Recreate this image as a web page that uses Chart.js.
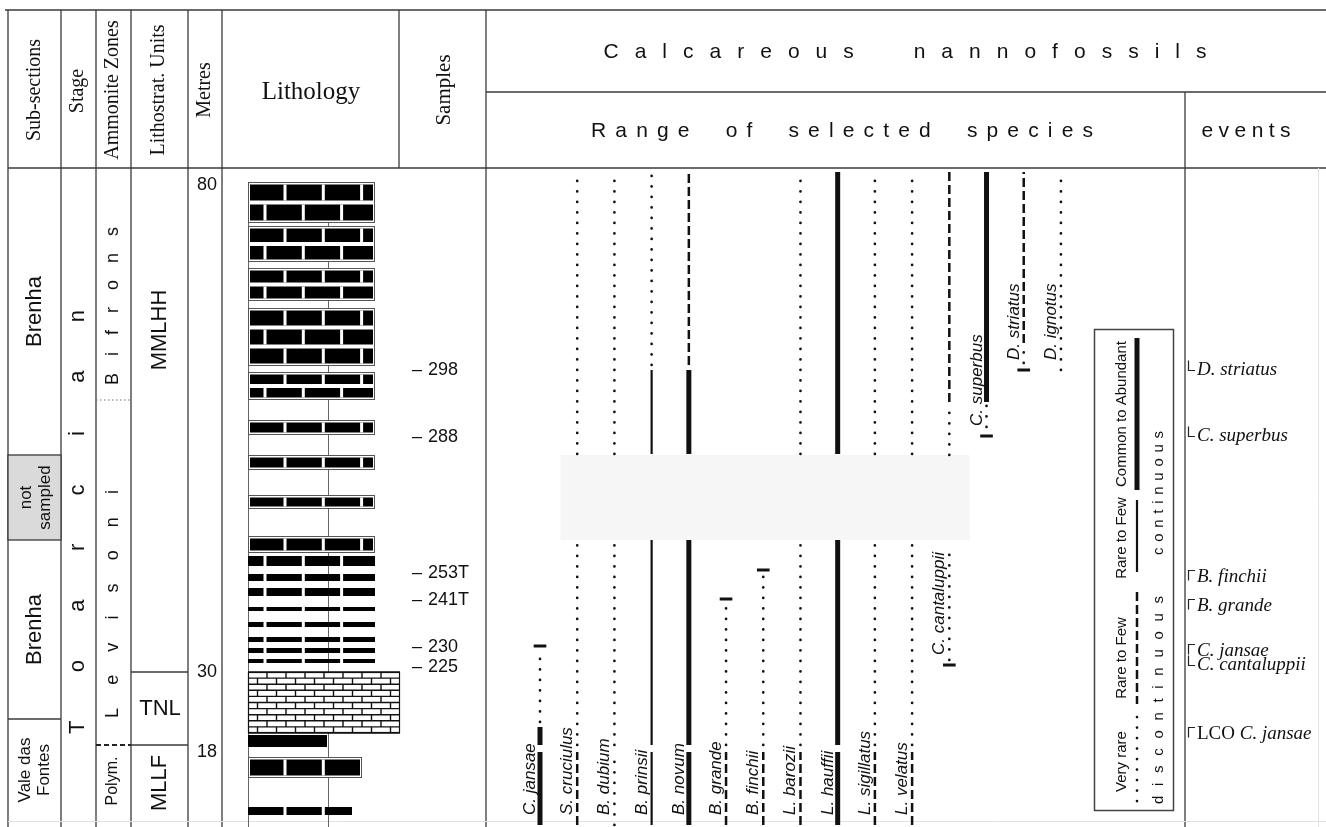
<!DOCTYPE html>
<html><head><meta charset="utf-8">
<script src="https://cdn.jsdelivr.net/npm/chart.js@4.4.0/dist/chart.umd.min.js"></script>
<style>html,body{margin:0;padding:0;background:#fff;}canvas{display:block;}</style>
</head><body>
<canvas id="c" width="1326" height="827" style="width:1326px;height:827px"></canvas>
<script>
// ================= DATA =================
// vertical unit: stratigraphic level (section height units, base of figure = 0)
const speciesNames = ['C. jansae','S. cruciulus','B. dubium','B. prinsii','B. novum','B. grande','B. finchii','L. barozii','L. hauffii','L. sigillatus','L. velatus','C. cantaluppii','C. superbus','D. striatus','D. ignotus'];

// range segments (species index, base level, top level, abundance class)
const segSpecies = [0,0,0, 1,1,1, 2,2,2, 3,3,3,3, 4,4,4,4, 5,5, 6,6, 7,7,7, 8,8,8, 9,9,9, 10,10,10, 11,11,11, 12,12, 13,13, 14];
const segBase    = [2,82,105, 2,82,373, 2,82,373, 2,82,373,462, 2,82,373,462, 2,82, 2,82, 2,82,373, 2,82,373, 2,82,373, 2,82,373, 167,372,425, 400,425, 464,484, 457];
const segTop     = [75,100,174, 75,285,655, 75,285,655, 75,287,457,655, 75,287,457,655, 75,220, 75,252, 75,285,655, 75,287,655, 75,285,655, 75,285,655, 280,422,655, 424,655, 480,655, 655];
const segClass   = ['CA','CA','VR', 'RFd','VR','VR', 'VR','VR','VR', 'RF','RF','RF','VR', 'CA','CA','CA','RFd', 'RFd','VR', 'RFd','VR', 'RFd','VR','VR', 'CA','CA','CA', 'RFd','VR','VR', 'RFd','VR','VR', 'VR','VR','RFd', 'VR','CA', 'VR','RFd', 'VR'];

// first / last occurrence markers
const tickSpecies = [0,5,6,11,12,13];
const tickLevel   = [181,228,257,162,391,457];

// bioevents
const eventNames = ['D. striatus','C. superbus','B. finchii','B. grande','C. jansae','C. cantaluppii','LCO C. jansae'];
const eventLevel = [457,391,257,228,183,162,100];
const eventType  = ['FO','FO','LO','LO','LO','FO','LO'];

// samples
const sampleNames = ['298','288','253T','241T','230','225'];
const sampleLevel = [457,390,254,227,180,160];

// metres tick labels
const metreLabels = ['80','30','18'];
const metreLevel  = [642,155,75];

// lithology beds
const bedBase    = [604,565,526,461,427,392,357,318,274,261,246,231,216,200,185,174,164,94,80,49,12];
const bedTop     = [645,601,559,519,455,407,372,332,291,271,253,239,220,205,190,179,168,155,92,70,20];
const bedLith    = ['M','M','M','M','M','M','M','M','M','S','S','S','S','S','S','S','S','L','K','M','S'];
const bedProfile = [5,5,5,5,5,5,5,5,5,5,5,5,5,5,5,5,5,6,3.1,4.5,4.1];

// stratigraphic units
const subNames = ['Brenha','not sampled','Brenha','Vale das Fontes'];
const subTop   = [659,372,287,108];
const subBase  = [372,287,108,0];
const zoneNames = ['Bifrons','Levisoni','Polym.'];
const zoneTop   = [659,427,82];
const zoneBase  = [427,82,0];
const unitNames = ['MMLHH','TNL','MLLF'];
const unitTop   = [659,155,82];
const unitBase  = [155,82,0];
const stageName = 'Toarcian';

// ================= STYLE =================
const SANS = '"Liberation Sans", Arial, sans-serif';
const SERIF = '"Liberation Serif", "Times New Roman", serif';
const INK = '#111';
const classStyle = {
  CA:  {w:5,   dash:[],        cap:'butt'},
  RF:  {w:2.2, dash:[],        cap:'butt'},
  RFd: {w:2.5, dash:[9,4],     cap:'butt'},
  VR:  {w:2.7, dash:[0.1,10.4],cap:'round'}
};
const COL = {l:8, sub:61, stage:96, zone:131, unit:188, metre:222, litho:399, samp:486, ev:1185, r:1326};
const ROW = {top:10, mid:92, head:168, bottom:827};
const LX0 = 248, PROFILE_UNIT = 25.4;

// ================= DATASETS =================
const datasets = [];
for (let i = 0; i < segSpecies.length; i++) {
  const st = classStyle[segClass[i]];
  datasets.push({
    data: [{x: segSpecies[i], y: segBase[i]}, {x: segSpecies[i], y: segTop[i]}],
    borderColor: INK, borderWidth: st.w, borderDash: st.dash, borderCapStyle: st.cap,
    pointRadius: 0, fill: false, tension: 0, clip: false
  });
}
for (let i = 0; i < tickSpecies.length; i++) {
  datasets.push({
    data: [{x: tickSpecies[i] - 0.17, y: tickLevel[i]}, {x: tickSpecies[i] + 0.17, y: tickLevel[i]}],
    borderColor: INK, borderWidth: 3, pointRadius: 0, fill: false, clip: false
  });
}

// ================= HELPERS =================
function hline(ctx, x0, x1, y) { ctx.beginPath(); ctx.moveTo(x0, y); ctx.lineTo(x1, y); ctx.stroke(); }
function vline(ctx, x, y0, y1) { ctx.beginPath(); ctx.moveTo(x, y0); ctx.lineTo(x, y1); ctx.stroke(); }
function vtext(ctx, text, x, y, font, align, baseline) {
  ctx.save(); ctx.translate(x, y); ctx.rotate(-Math.PI / 2);
  ctx.font = font; ctx.textAlign = align || 'center'; ctx.textBaseline = baseline || 'middle';
  ctx.fillText(text, 0, 0); ctx.restore();
}
// draws text spread to a total width, centred at (cx, cy); optional rotation
function spaced(ctx, text, cx, cy, total, font, rotate, wordExtra) {
  ctx.save(); ctx.translate(cx, cy); if (rotate) ctx.rotate(-Math.PI / 2);
  ctx.font = font; ctx.textAlign = 'left'; ctx.textBaseline = 'middle';
  const chars = text.split('');
  const ws = chars.map(c => ctx.measureText(c).width);
  const nSpaces = chars.filter(c => c === ' ').length;
  const extra = (wordExtra || 0);
  const sum = ws.reduce((a, b) => a + b, 0) + extra * nSpaces;
  const gap = (total - sum) / (chars.length - 1);
  let x = -total / 2;
  chars.forEach((c, i) => { ctx.fillText(c, x, 0); x += ws[i] + gap + (c === ' ' ? extra : 0); });
  ctx.restore();
}
function blackRow(ctx, x0, x1, y, h, off) {
  ctx.fillStyle = '#000'; ctx.fillRect(x0, y, x1 - x0, h);
  ctx.fillStyle = '#fff';
  for (let gx = LX0 + off; gx < x1 - 4; gx += 38.3) ctx.fillRect(gx - 1.5, y, 3, h);
}

// ================= PLUGIN =================
const stratPlugin = {
  id: 'strat',
  beforeDraw(chart) {
    const ctx = chart.ctx; ctx.save(); ctx.fillStyle = '#fff'; ctx.fillRect(0, 0, chart.width, chart.height); ctx.restore();
  },
  beforeDatasetsDraw(chart) {
    const ctx = chart.ctx, Y = v => chart.scales.y.getPixelForValue(v), X = v => chart.scales.x.getPixelForValue(v);
    ctx.save();
    // not sampled band across range chart
    ctx.fillStyle = '#f6f6f6';
    ctx.fillRect(X(0.55), Y(subTop[1]), X(11.55) - X(0.55), Y(subBase[1]) - Y(subTop[1]));

    // table frame
    ctx.strokeStyle = '#3a3a3a'; ctx.lineWidth = 1.3;
    hline(ctx, COL.l - 3, COL.r, ROW.top);
    hline(ctx, COL.l, COL.r, ROW.head);
    hline(ctx, COL.samp, COL.r, ROW.mid);
    [COL.l, COL.sub, COL.stage, COL.zone, COL.unit, COL.metre, COL.samp].forEach(x => vline(ctx, x, ROW.top, ROW.bottom));
    vline(ctx, COL.litho, ROW.top, ROW.head);
    vline(ctx, COL.ev, ROW.mid, ROW.bottom);
    ctx.strokeStyle = '#e2e2e2'; ctx.lineWidth = 1;
    hline(ctx, COL.l, COL.r, 821.5); vline(ctx, 1318.5, ROW.head, ROW.bottom);

    // sub-sections
    ctx.strokeStyle = '#3a3a3a'; ctx.lineWidth = 1.3;
    ctx.fillStyle = '#dadada';
    ctx.fillRect(COL.l, Y(subTop[1]), COL.sub - COL.l, Y(subBase[1]) - Y(subTop[1]));
    ctx.strokeRect(COL.l, Y(subTop[1]), COL.sub - COL.l, Y(subBase[1]) - Y(subTop[1]));
    hline(ctx, COL.l, COL.sub, Y(subTop[3]));
    // ammonite zone boundaries
    ctx.save(); ctx.strokeStyle = '#777'; ctx.lineWidth = 1.2; ctx.setLineDash([1.5, 2.5]);
    hline(ctx, COL.stage, COL.zone, Y(zoneBase[0])); ctx.restore();
    ctx.save(); ctx.strokeStyle = '#222'; ctx.lineWidth = 2.2; ctx.setLineDash([5, 3]);
    hline(ctx, COL.stage, COL.zone, Y(zoneBase[1])); ctx.restore();
    // lithostratigraphic units
    hline(ctx, COL.zone, COL.unit, Y(unitBase[0]));
    hline(ctx, COL.zone, COL.unit, Y(unitBase[1]));

    // lithology guide lines
    ctx.strokeStyle = '#666'; ctx.lineWidth = 1;
    vline(ctx, LX0 + 0.5, Y(bedTop[0]), ROW.bottom);
    vline(ctx, LX0 + 80.5, Y(bedTop[0]), ROW.bottom);
    // beds
    for (let i = 0; i < bedBase.length; i++) {
      const yT = Math.round(Y(bedTop[i])), yB = Math.round(Y(bedBase[i])), h = yB - yT;
      const x1 = Math.round(LX0 + bedProfile[i] * PROFILE_UNIT);
      const lith = bedLith[i];
      if (lith === 'M') {
        ctx.fillStyle = '#fff'; ctx.fillRect(LX0, yT, x1 - LX0, h);
        ctx.strokeStyle = '#555'; ctx.lineWidth = 1; ctx.strokeRect(LX0 + 0.5, yT + 0.5, x1 - LX0 - 1, h - 1);
        const rows = Math.max(1, Math.round((h - 2) / 17));
        const rh = (h - 5 - (rows - 1) * 4) / rows;
        for (let r = 0; r < rows; r++) blackRow(ctx, LX0 + 2, x1 - 2, yT + 2.5 + r * (rh + 4), rh, r % 2 === 0 ? 37 : 17);
      } else if (lith === 'S') {
        blackRow(ctx, LX0, x1, yT, h, x1 < 360 ? 37 : 17);
      } else if (lith === 'K') {
        ctx.fillStyle = '#000'; ctx.fillRect(LX0, yT, x1 - LX0, h);
      } else if (lith === 'L') {
        ctx.fillStyle = '#fff'; ctx.fillRect(LX0, yT, x1 - LX0, h);
        ctx.strokeStyle = '#111'; ctx.lineWidth = 1.4;
        const n = Math.round(h / 6.3), rh = h / n;
        for (let r = 0; r <= n; r++) hline(ctx, LX0, x1, yT + r * rh);
        for (let r = 0; r < n; r++) {
          for (let gx = LX0 + (r % 2 ? 9.5 : 19); gx < x1 - 2; gx += 19) vline(ctx, gx, yT + r * rh, yT + (r + 1) * rh);
        }
        ctx.lineWidth = 1.2; ctx.strokeRect(LX0 + 0.5, yT + 0.5, x1 - LX0 - 1, h - 1);
      }
    }
    ctx.restore();
  },
  afterDatasetsDraw(chart) {
    const ctx = chart.ctx, Y = v => chart.scales.y.getPixelForValue(v), X = v => chart.scales.x.getPixelForValue(v);
    ctx.save(); ctx.fillStyle = INK;
    // headers
    const hs = '20px ' + SERIF;
    vtext(ctx, 'Sub-sections', 35, 90, hs);
    vtext(ctx, 'Stage', 78, 91, hs);
    vtext(ctx, 'Ammonite Zones', 113, 90, hs);
    vtext(ctx, 'Lithostrat. Units', 159, 90, hs);
    vtext(ctx, 'Metres', 205, 90, hs);
    vtext(ctx, 'Samples', 444, 90, '21px ' + SERIF);
    ctx.font = '25px ' + SERIF; ctx.textAlign = 'center'; ctx.textBaseline = 'middle';
    ctx.fillText('Lithology', 311, 92);
    spaced(ctx, 'Calcareous nannofossils', 905, 52, 603, '21px ' + SANS, false, 22);
    spaced(ctx, 'Range of selected species', 842, 131, 502, '21px ' + SANS, false, 12);
    spaced(ctx, 'events', 1246, 131, 89, '21px ' + SANS, false, 0);

    // sub-sections
    const midY = i => (Y(subTop[i]) + Y(subBase[i])) / 2;
    vtext(ctx, subNames[0], 35, midY(0), '22px ' + SANS);
    vtext(ctx, 'not', 26, midY(1), '17px ' + SANS);
    vtext(ctx, 'sampled', 45, midY(1), '17px ' + SANS);
    vtext(ctx, subNames[2], 35, midY(2), '22px ' + SANS);
    vtext(ctx, 'Vale das', 25, midY(3) - 3, '17px ' + SANS);
    vtext(ctx, 'Fontes', 44, midY(3) - 3, '17px ' + SANS);
    // stage
    spaced(ctx, stageName, 78, 522, 424, '22px ' + SANS, true, 0);
    // ammonite zones
    spaced(ctx, zoneNames[0], 113, 306, 158, '18px ' + SANS, true, 0);
    spaced(ctx, zoneNames[1], 113, 604, 228, '18px ' + SANS, true, 0);
    vtext(ctx, zoneNames[2], 113, (Y(zoneTop[2]) + ROW.bottom) / 2 - 5, '16px ' + SANS);
    // lithostrat units
    vtext(ctx, unitNames[0], 160, 330, '22px ' + SANS);
    ctx.font = '22px ' + SANS; ctx.textAlign = 'center'; ctx.textBaseline = 'middle';
    ctx.fillText(unitNames[1], 160, (Y(unitTop[1]) + Y(unitBase[1])) / 2);
    vtext(ctx, unitNames[2], 160, (Y(unitTop[2]) + ROW.bottom) / 2 - 3, '22px ' + SANS);
    // metres
    ctx.font = '18px ' + SANS; ctx.textAlign = 'center'; ctx.textBaseline = 'middle';
    metreLabels.forEach((m, i) => ctx.fillText(m, 207, Y(metreLevel[i])));
    // samples
    ctx.textAlign = 'left';
    sampleNames.forEach((s, i) => { const y = Y(sampleLevel[i]); ctx.fillText('\u2013', 412, y); ctx.fillText(s, 428, y); });

    // species labels
    const lowest = speciesNames.map((_, k) => {
      let m = Infinity;
      segSpecies.forEach((s, i) => { if (s === k) m = Math.min(m, segBase[i]); });
      tickSpecies.forEach((s, i) => { if (s === k) m = Math.min(m, tickLevel[i]); });
      return m;
    });
    speciesNames.forEach((n, k) => {
      vtext(ctx, n, X(k) - 5, Y(lowest[k] + 10), 'italic 17px ' + SANS, 'left', 'alphabetic');
    });

    // legend box
    ctx.strokeStyle = '#444'; ctx.lineWidth = 1.5;
    ctx.strokeRect(1094.5, 329.5, 79, 481);
    const lg = [['Common to Abundant','CA',338,490],['Rare to Few','RF',500,572],['Rare to Few','RFd',592,704],['Very rare','VR',717,806]];
    lg.forEach(([t, c, y0, y1]) => {
      const st = classStyle[c];
      ctx.save(); ctx.strokeStyle = INK; ctx.lineWidth = st.w; ctx.setLineDash(st.dash); ctx.lineCap = st.cap;
      vline(ctx, 1137, y0, y1); ctx.restore();
      vtext(ctx, t, 1122, (c === 'RF' ? 538 : c === 'RFd' ? 658 : (y0 + y1) / 2), '15px ' + SANS);
    });
    spaced(ctx, 'continuous', 1159, 493, 124, '15px ' + SANS, true, 0);
    spaced(ctx, 'discontinuous', 1159, 700, 208, '15px ' + SANS, true, 0);

    // events
    ctx.strokeStyle = '#222'; ctx.lineWidth = 1.2;
    eventNames.forEach((n, i) => {
      const y = Math.round(Y(eventLevel[i])) + 0.5;
      let ty;
      ctx.beginPath();
      if (eventType[i] === 'FO') { ctx.moveTo(1188.5, y - 10); ctx.lineTo(1188.5, y); ctx.lineTo(1195, y); ty = y + 4; }
      else { ctx.moveTo(1195, y); ctx.lineTo(1188.5, y); ctx.lineTo(1188.5, y + 10); ty = y + 11; }
      ctx.stroke();
      ctx.textAlign = 'left'; ctx.textBaseline = 'alphabetic';
      let x = 1197;
      let rest = n;
      if (n.startsWith('LCO ')) { ctx.font = '19px ' + SERIF; ctx.fillText('LCO ', x, ty); x += ctx.measureText('LCO ').width; rest = n.slice(4); }
      ctx.font = 'italic 19px ' + SERIF; ctx.fillText(rest, x, ty);
    });
    ctx.restore();
  }
};

const xPerSpecies = 37.21, firstSpeciesPx = 540;
new Chart(document.getElementById('c'), {
  type: 'line',
  data: { datasets },
  options: {
    responsive: false, animation: false, devicePixelRatio: 1,
    layout: { padding: 0 },
    plugins: { legend: { display: false }, tooltip: { enabled: false } },
    scales: {
      x: { type: 'linear', display: false, min: -firstSpeciesPx / xPerSpecies, max: (1326 - firstSpeciesPx) / xPerSpecies },
      y: { type: 'linear', display: false, min: 0, max: 827 }
    }
  },
  plugins: [stratPlugin]
});
</script>
</body></html>
